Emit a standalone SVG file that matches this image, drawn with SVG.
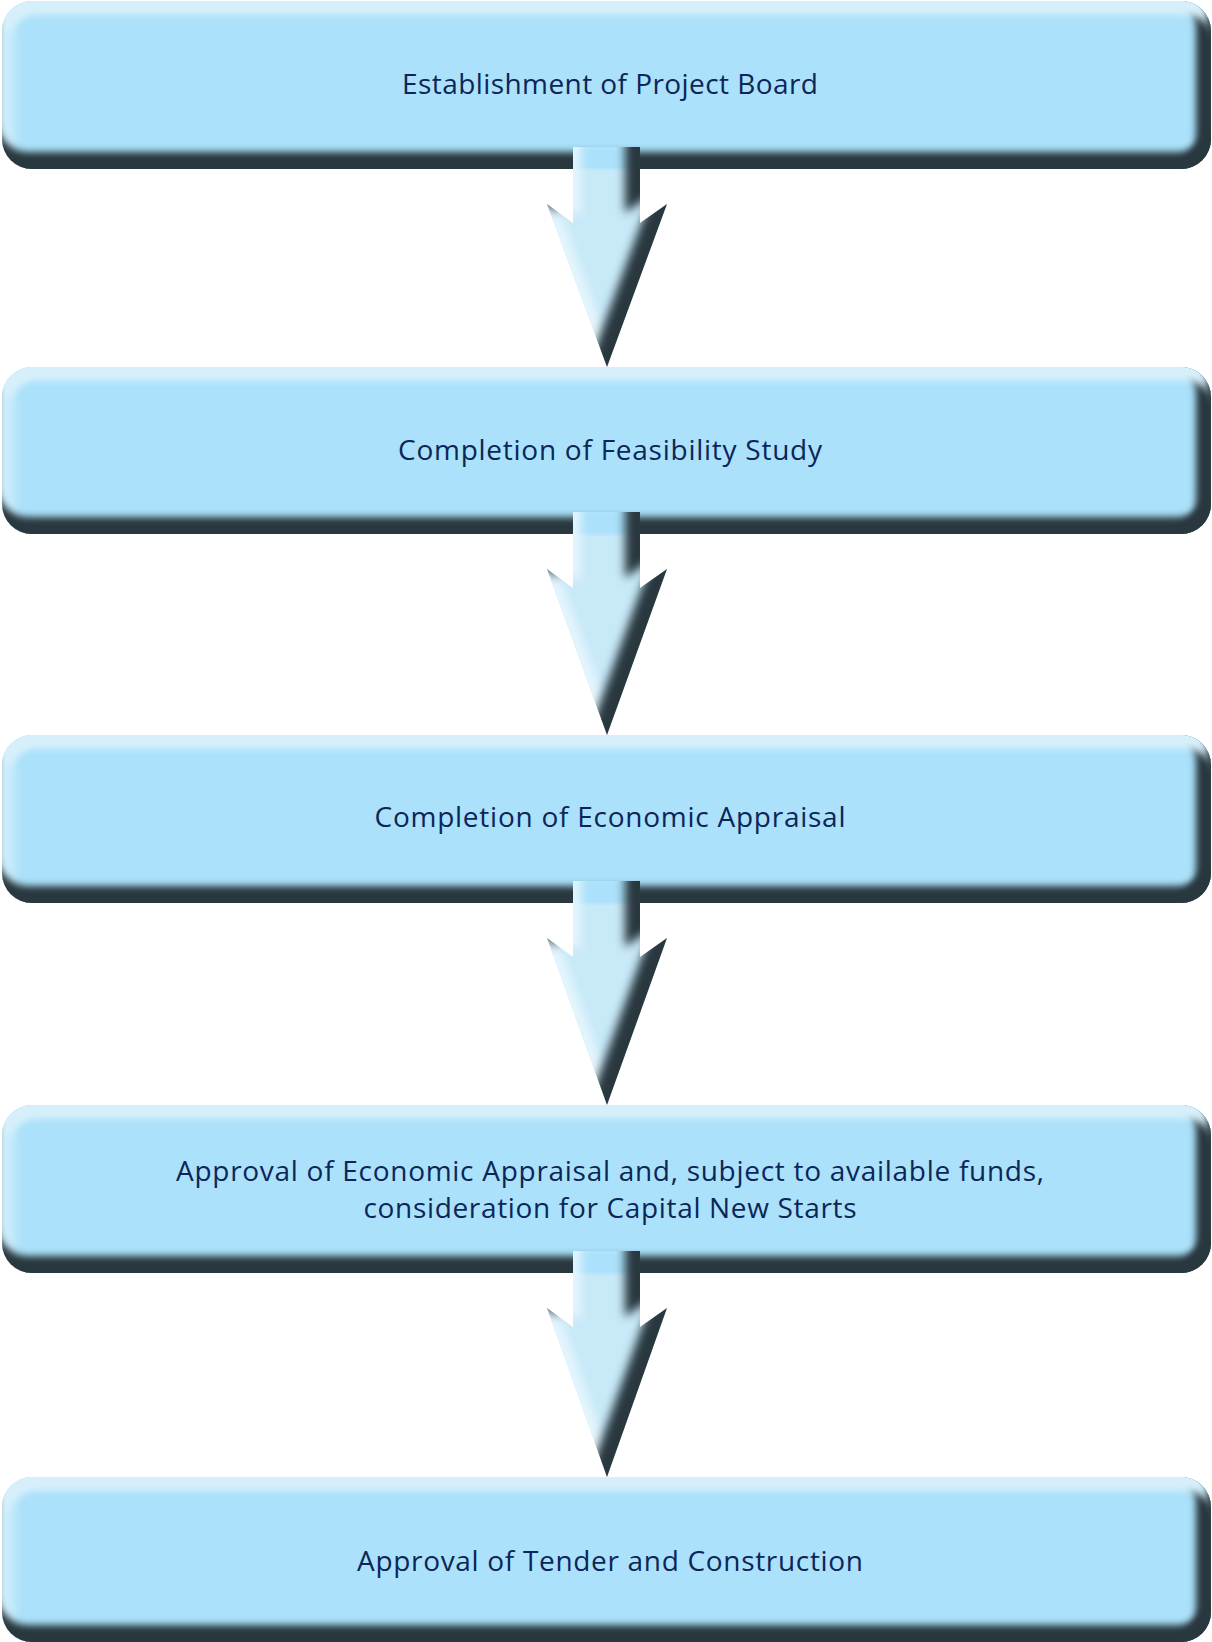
<svg xmlns="http://www.w3.org/2000/svg" width="1212" height="1642" viewBox="0 0 1212 1642">
  <style>
    .box { fill: #abe1fa; filter: url(#boxBevel); }
    .arrow { fill: url(#arrowFill); filter: url(#arrowBevel); }
    .label { font-family: "Open Sans", "Noto Sans", "DejaVu Sans", sans-serif; font-size: 28px; fill: #0c2658; text-anchor: middle; }
  </style>
  <defs>
    <!-- bevelled box: dark inner edge along right and bottom, light edge along top and left -->
    <filter id="boxBevel" x="-2%" y="-10%" width="104%" height="120%" color-interpolation-filters="sRGB">
      <feGaussianBlur in="SourceAlpha" stdDeviation="3.8" result="blur"/>
      <feFlood flood-color="#29373e" result="dark"/>
      <feOffset in="blur" dx="-15" dy="-4" result="oR"/>
      <feComposite in="SourceAlpha" in2="oR" operator="out" result="mR"/>
      <feComposite in="dark" in2="mR" operator="in" result="shadeR"/>
      <feOffset in="blur" dx="14" dy="4" result="oL"/>
      <feComposite in="SourceAlpha" in2="oL" operator="out" result="mL"/>
      <feFlood flood-color="#c4eafb" result="lightL"/>
      <feComposite in="lightL" in2="mL" operator="in" result="hlL"/>
      <feOffset in="blur" dx="4" dy="14" result="oT"/>
      <feComposite in="SourceAlpha" in2="oT" operator="out" result="mT"/>
      <feFlood flood-color="#d6effb" result="lightT"/>
      <feComposite in="lightT" in2="mT" operator="in" result="hlT"/>
      <feOffset in="blur" dx="-4" dy="-17" result="oB"/>
      <feComposite in="SourceAlpha" in2="oB" operator="out" result="mB"/>
      <feComposite in="dark" in2="mB" operator="in" result="shadeB"/>
      <feMerge>
        <feMergeNode in="SourceGraphic"/>
        <feMergeNode in="shadeR"/>
        <feMergeNode in="hlL"/>
        <feMergeNode in="hlT"/>
        <feMergeNode in="shadeB"/>
      </feMerge>
    </filter>
    <!-- bevelled arrow: shaded right flank, lit left flank -->
    <filter id="arrowBevel" x="-25%" y="-10%" width="150%" height="120%" color-interpolation-filters="sRGB">
      <feGaussianBlur in="SourceAlpha" stdDeviation="4.6" result="blur"/>
      <feOffset in="blur" dx="8" dy="-5" result="oL"/>
      <feComposite in="SourceAlpha" in2="oL" operator="out" result="mL"/>
      <feFlood flood-color="#e4f5fd" result="light"/>
      <feComposite in="light" in2="mL" operator="in" result="hl"/>
      <feOffset in="blur" dx="-15" dy="-10" result="oR"/>
      <feComposite in="SourceAlpha" in2="oR" operator="out" result="mR"/>
      <feFlood flood-color="#29373e" result="dark"/>
      <feComposite in="dark" in2="mR" operator="in" result="shade"/>
      <feMerge>
        <feMergeNode in="SourceGraphic"/>
        <feMergeNode in="hl"/>
        <feMergeNode in="shade"/>
      </feMerge>
    </filter>
    <!-- shaft root inside the box keeps the box colour -->
    <linearGradient id="arrowFill" x1="0" y1="0" x2="0" y2="1">
      <stop offset="0" stop-color="#abe1fa"/>
      <stop offset="0.09" stop-color="#abe1fa"/>
      <stop offset="0.11" stop-color="#c7e9f8"/>
      <stop offset="1" stop-color="#c7e9f8"/>
    </linearGradient>
  </defs>

  <rect width="1212" height="1642" fill="#ffffff"/>

  <g id="node-project-board">
    <rect class="box" x="2" y="1" width="1209" height="168" rx="30"/>
    <text class="label" x="610" y="94" textLength="416">Establishment of Project Board</text>
  </g>
  <g id="node-feasibility">
    <rect class="box" x="2" y="367" width="1209" height="167" rx="30"/>
    <text class="label" x="610" y="460" textLength="424">Completion of Feasibility Study</text>
  </g>
  <g id="node-economic-appraisal">
    <rect class="box" x="2" y="735" width="1209" height="168" rx="30"/>
    <text class="label" x="610" y="827" textLength="471">Completion of Economic Appraisal</text>
  </g>
  <g id="node-approval-appraisal">
    <rect class="box" x="2" y="1105" width="1209" height="168" rx="30"/>
    <text class="label" x="610" y="1181" textLength="868">Approval of Economic Appraisal and, subject to available funds,</text>
    <text class="label" x="610" y="1218" textLength="493">consideration for Capital New Starts</text>
  </g>
  <g id="node-tender">
    <rect class="box" x="2" y="1477" width="1209" height="165" rx="30"/>
    <text class="label" x="610" y="1571" textLength="506">Approval of Tender and Construction</text>
  </g>

  <g id="connectors">
    <polygon class="arrow" points="573,147 640,147 640,223 667,204 607,367 547,204 573,223"/>
    <polygon class="arrow" points="573,512 640,512 640,588 667,569 607,735 547,569 573,588"/>
    <polygon class="arrow" points="573,881 640,881 640,957 667,938 607,1105 547,938 573,957"/>
    <polygon class="arrow" points="573,1251 640,1251 640,1327 667,1308 607,1477 547,1308 573,1327"/>
  </g>
</svg>
